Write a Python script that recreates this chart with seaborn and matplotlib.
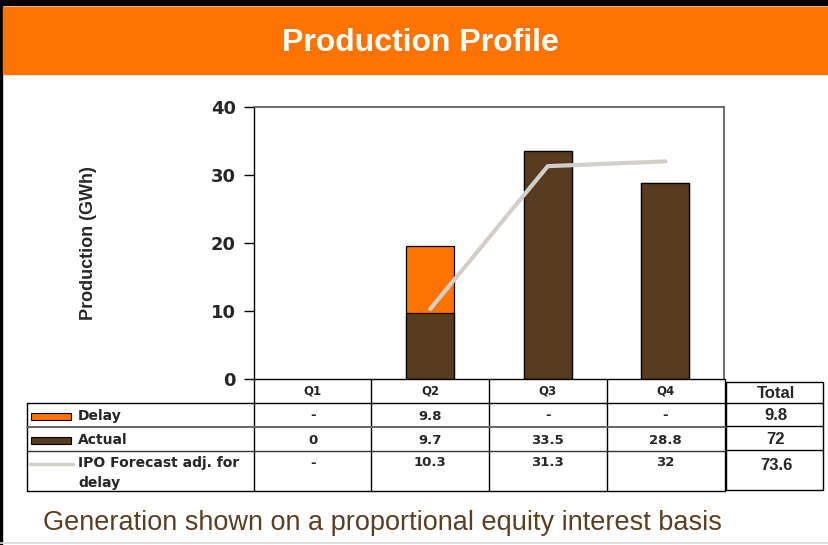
import numpy as np
import pandas as pd
import matplotlib
matplotlib.use("Agg")
import matplotlib.pyplot as plt
import matplotlib.transforms as mtransforms
from matplotlib.lines import Line2D
from matplotlib.patches import Rectangle
import seaborn as sns

# data
quarters = ["Q1", "Q2", "Q3", "Q4"]
delay = [0.0, 9.8, 0.0, 0.0]
actual = [0.0, 9.7, 33.5, 28.8]
forecast = [np.nan, 10.3, 31.3, 32.0]
delay_txt = ["-", "9.8", "-", "-"]
actual_txt = ["0", "9.7", "33.5", "28.8"]
forecast_txt = ["-", "10.3", "31.3", "32"]
totals_txt = ["9.8", "72", "73.6"]
row_labels = ["Delay", "Actual", "IPO Forecast adj. for\ndelay"]

ORANGE = "#FF7300"
BROWN = "#563B1F"
GREY_LINE = "#D2CFCB"
WIDE = ["DejaVu Sans"]  # wide bold face like the original

W, H = 829, 545
sns.set_theme(style="white")
plt.rcParams["font.family"] = ["Liberation Sans", "DejaVu Sans"]

fig = plt.figure(figsize=(W / 100, H / 100), dpi=100)


def px(x, y):
    return x / W, 1 - y / H


def hline(x0, x1, y, color="black", lw=1.0):
    fig.add_artist(Line2D([x0 / W, x1 / W], [1 - y / H, 1 - y / H],
                          transform=fig.transFigure, color=color, lw=lw))


def vline(x, y0, y1, color="black", lw=1.0):
    fig.add_artist(Line2D([x / W, x / W], [1 - y0 / H, 1 - y1 / H],
                          transform=fig.transFigure, color=color, lw=lw))


# frame + banner
fig.add_artist(Rectangle(px(0, 5), 1, 5 / H, transform=fig.transFigure, color="black"))
fig.add_artist(Rectangle(px(0, H), 2.5 / W, 1, transform=fig.transFigure, color="black"))
fig.add_artist(Rectangle(px(3, 74), 1, 67 / H, transform=fig.transFigure, color=ORANGE))
fig.text(*px(420, 43), "Production Profile", color="white", fontsize=23,
         fontweight="bold", ha="center", va="center")
hline(0, W, 543, color="#d9d9d9", lw=1.2)

# chart
ax = fig.add_axes([254 / W, 1 - 379 / H, (724 - 254) / W, (379 - 107) / H])
df = pd.DataFrame({"quarter": quarters, "delay": delay, "actual": actual,
                   "stack": np.array(actual) + np.array(delay), "forecast": forecast})
sns.barplot(data=df, x="quarter", y="stack", color=ORANGE, saturation=1,
            width=0.41, edgecolor="black", linewidth=0.9, ax=ax)
sns.barplot(data=df, x="quarter", y="actual", color=BROWN, saturation=1,
            width=0.41, edgecolor="black", linewidth=0.9, ax=ax)
for p in ax.patches:
    if p.get_height() == 0:
        p.set_visible(False)
df["pos"] = np.arange(len(quarters))
sns.lineplot(data=df, x="pos", y="forecast", color=GREY_LINE, lw=3, ax=ax,
             solid_capstyle="round")
ax.set_xlim(-0.5, 3.5)
ax.set_ylim(0, 40)
ax.set_yticks([0, 10, 20, 30, 40])
ax.set_xticks([])
ax.set_xlabel("")
ax.set_ylabel("")
ax.tick_params(axis="y", left=True, length=7, width=1, color="black", pad=6)
for t in ax.get_yticklabels():
    t.set_fontweight("bold")
    t.set_family(WIDE)
    t.set_fontsize(13)
for s in ["left", "bottom"]:
    ax.spines[s].set_color("black")
    ax.spines[s].set_linewidth(1.0)
for s in ["top", "right"]:
    ax.spines[s].set_color("#555555")
    ax.spines[s].set_linewidth(1.2)
fig.text(*px(89, 243), "Production (GWh)", rotation=90, fontsize=13,
         fontweight="bold", ha="center", va="center")

# table
trans = mtransforms.blended_transform_factory(ax.transData, fig.transFigure)
col_edges = [254, 371, 489, 607, 725]
for x in col_edges:
    vline(x, 379, 491)
vline(27, 403, 491)
hline(27, 725, 403)
hline(27, 725, 427, color="#666666", lw=1.4)
hline(27, 725, 451, color="#333333")
hline(27, 725, 491)
cell_kw = dict(transform=trans, ha="center", va="center", fontsize=9.5,
               fontweight="bold", family=WIDE)
for i, q in enumerate(quarters):
    fig.text(i, 1 - 391 / H, q, **{**cell_kw, "fontsize": 8.5})
    fig.text(i, 1 - 416 / H, delay_txt[i], **cell_kw)
    fig.text(i, 1 - 440 / H, actual_txt[i], **cell_kw)
    fig.text(i, 1 - 463 / H, forecast_txt[i], **cell_kw)

# row labels with legend keys
fig.add_artist(Rectangle(px(31, 420), 40 / W, 7 / H, transform=fig.transFigure,
                         facecolor=ORANGE, edgecolor="black", lw=0.8))
fig.add_artist(Rectangle(px(31, 444), 40 / W, 7 / H, transform=fig.transFigure,
                         facecolor=BROWN, edgecolor="black", lw=0.8))
hline(30, 73, 464, color=GREY_LINE, lw=2.5)
lab_kw = dict(fontsize=10, fontweight="bold", family=WIDE)
fig.text(*px(78, 416), row_labels[0], va="center", **lab_kw)
fig.text(*px(78, 440), row_labels[1], va="center", **lab_kw)
fig.text(*px(78, 456), row_labels[2], va="top", linespacing=1.5, **lab_kw)

# total box
fig.add_artist(Rectangle(px(726, 490), (823 - 726) / W, (490 - 382) / H,
                         transform=fig.transFigure, fill=False, edgecolor="black", lw=1))
for y in [403, 426, 450]:
    hline(726, 823, y)
for y, t in zip([393, 415, 439, 465], ["Total"] + totals_txt):
    fig.text(*px(776, y), t, fontsize=12, fontweight="bold", ha="center", va="center")

fig.text(*px(43, 523), "Generation shown on a proportional equity interest basis",
         fontsize=19.5, color="#5A4023", va="center")

fig.savefig("out.png", dpi=100)
